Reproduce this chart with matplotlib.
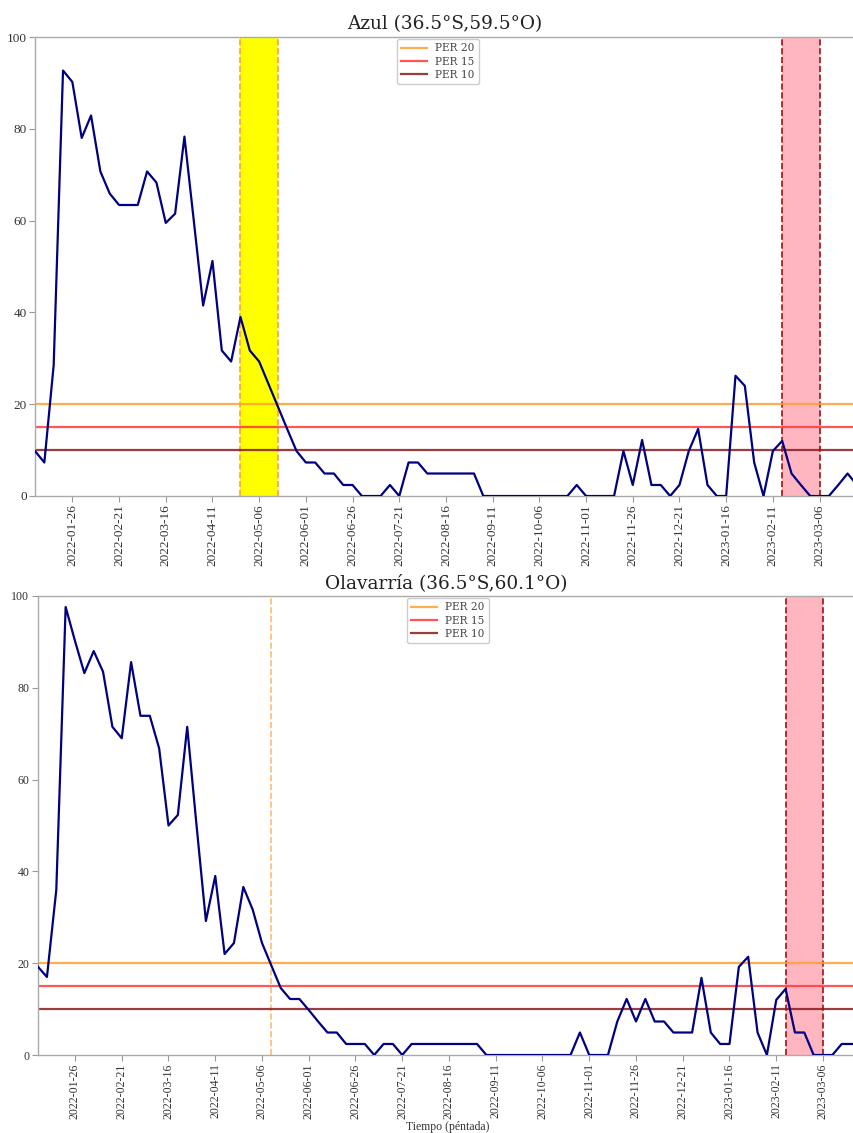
import matplotlib
matplotlib.use("Agg")
import matplotlib.pyplot as plt
import numpy as np

# pentad dates (index 0 = 2022-01-06)
tick_idx = [4, 9, 14, 19, 24, 29, 34, 39, 44, 49, 54, 59, 64, 69, 74, 79, 84]
tick_labels = ["2022-01-26", "2022-02-21", "2022-03-16", "2022-04-11", "2022-05-06",
               "2022-06-01", "2022-06-26", "2022-07-21", "2022-08-16", "2022-09-11",
               "2022-10-06", "2022-11-01", "2022-11-26", "2022-12-21", "2023-01-16",
               "2023-02-11", "2023-03-06"]

azul = [9.8, 7.3, 28.5, 92.7, 90.2, 78.0, 82.9, 70.7, 65.9, 63.4,
        63.4, 63.4, 70.7, 68.3, 59.5, 61.5, 78.3, 60.0, 41.5, 51.2,
        31.7, 29.3, 39.0, 31.7, 29.3, 24.4, 19.5, 14.6, 9.8, 7.3,
        7.3, 4.9, 4.9, 2.4, 2.4, 0, 0, 0, 2.4, 0,
        7.3, 7.3, 4.9, 4.9, 4.9, 4.9, 4.9, 4.9, 0, 0,
        0, 0, 0, 0, 0, 0, 0, 0, 2.4, 0,
        0, 0, 0, 9.8, 2.4, 12.2, 2.4, 2.4, 0, 2.4,
        9.8, 14.6, 2.4, 0, 0, 26.2, 24.0, 7.3, 0, 9.8,
        12.0, 4.9, 2.4, 0, 0, 0, 2.4, 4.9, 2.4]

olav = [19.3, 17.0, 36.0, 97.6, 90.2, 83.2, 88.0, 83.5, 71.5, 69.0,
        85.6, 73.9, 73.9, 66.8, 50.0, 52.3, 71.5, 50.0, 29.2, 39.0,
        22.0, 24.4, 36.6, 31.7, 24.4, 19.5, 14.6, 12.2, 12.2, 9.8,
        7.3, 4.9, 4.9, 2.4, 2.4, 2.4, 0, 2.4, 2.4, 0,
        2.4, 2.4, 2.4, 2.4, 2.4, 2.4, 2.4, 2.4, 0, 0,
        0, 0, 0, 0, 0, 0, 0, 0, 4.9, 0,
        0, 0, 7.3, 12.2, 7.3, 12.2, 7.3, 7.3, 4.9, 4.9,
        4.9, 16.8, 4.9, 2.4, 2.4, 19.2, 21.4, 4.9, 0, 12.0,
        14.4, 4.9, 4.9, 0, 0, 0, 2.4, 2.4, 2.4]

thresholds = [20, 15, 10]
thr_labels = ["PER 20", "PER 15", "PER 10"]
thr_colors = ["#ffa030", "#ff3838", "#8b1a1a"]

titles = ["Azul (36.5°S,59.5°O)", "Olavarría (36.5°S,60.1°O)"]

fig = plt.figure(figsize=(8.54, 11.33), dpi=100)
ax1 = fig.add_axes([35/854, (1133-496)/1133, (854-35)/854, (496-37)/1133])
ax2 = fig.add_axes([37.6/854, (1133-1055)/1133, (854-37.6)/854, (1055-596)/1133])

serif_tick = "Liberation Serif"
serif_title = "DejaVu Serif"

for k, (ax, data, title) in enumerate(zip([ax1, ax2], [azul, olav], titles)):
    x = np.arange(len(data))
    fs = 9.5 if k == 0 else 8.6
    # shaded periods
    if k == 0:
        ax.axvspan(22, 26, color="#ffff00", zorder=0, lw=0)
        for xv in (22, 26):
            ax.axvline(xv, color="#ffa040", ls="--", lw=1.2, zorder=1)
    else:
        ax.axvline(25, color="#ffbb70", ls="--", lw=1.2, zorder=1)
    ax.axvspan(80, 84, color="#ffb6c1", zorder=0, lw=0)
    for xv in (80, 84):
        ax.axvline(xv, color="#a01010", ls="--", lw=1.2, zorder=1)
    for t, lab, c in zip(thresholds, thr_labels, thr_colors):
        ax.axhline(t, color=c, lw=1.6, alpha=0.85, label=lab, zorder=2)
    ax.plot(x, data, color="#000080", lw=1.6, zorder=3)
    ax.set_xlim(0, 819/9.34 if k == 0 else 816.4/9.35)
    ax.set_ylim(0, 100)
    ax.set_yticks([0, 20, 40, 60, 80, 100])
    ax.set_xticks(tick_idx)
    ax.set_xticklabels(tick_labels, rotation=90, fontfamily=serif_tick, fontsize=fs, color="#333333")
    for lbl in ax.get_yticklabels():
        lbl.set_fontfamily(serif_tick)
        lbl.set_fontsize(fs)
        lbl.set_color("#333333")
    ax.tick_params(axis="both", direction="out", length=4, color="#999999", width=0.8, pad=2)
    for s in ["left", "bottom", "top"]:
        ax.spines[s].set_color("#aaaaaa")
        ax.spines[s].set_linewidth(1.0)
    ax.spines["right"].set_visible(False)
    ax.set_title(title, fontfamily=serif_title, fontsize=13.3, pad=6, color="#222222")
    leg = ax.legend(loc="upper center", bbox_to_anchor=((438-35)/819 if k == 0 else (448-37.6)/816.4, 1.008),
                    prop={"family": serif_title, "size": 7.6}, framealpha=1,
                    edgecolor="#cccccc", handlelength=2.4, borderpad=0.45, labelspacing=0.3)
    for t in leg.get_texts():
        t.set_color("#444444")

fig.text(448/854, 1 - 1127/1133, "Tiempo (péntada)", fontfamily=serif_tick, fontsize=8.5,
         color="#333333", ha="center", va="center")

fig.savefig("out.png", dpi=100)
